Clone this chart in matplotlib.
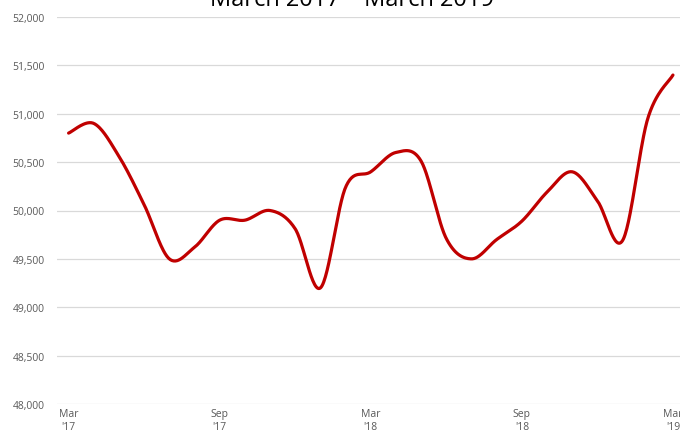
import numpy as np
import matplotlib
matplotlib.use("Agg")
import matplotlib.pyplot as plt

months = ["Mar", "Apr", "May", "Jun", "Jul", "Aug", "Sep", "Oct", "Nov", "Dec", "Jan", "Feb",
          "Mar", "Apr", "May", "Jun", "Jul", "Aug", "Sep", "Oct", "Nov", "Dec", "Jan", "Feb", "Mar"]
values = [50800, 50900, 50560, 50060, 49500, 49620, 49900, 49900, 50000, 49810, 49200, 50240,
          50400, 50600, 50510, 49710, 49500, 49700, 49890, 50190, 50400, 50100, 49690, 50950, 51400]
tick_idx = [0, 6, 12, 18, 24]
tick_labels = ["Mar\n'17", "Sep\n'17", "Mar\n'18", "Sep\n'18", "Mar\n'19"]
yticks = [48000, 48500, 49000, 49500, 50000, 50500, 51000, 51500, 52000]
title = "March 2017 \u2013 March 2019"


def smooth(x, y, n=30):
    x = np.asarray(x, float)
    y = np.asarray(y, float)
    xs, ys = [], []
    for i in range(len(x) - 1):
        p0 = np.array([x[max(i - 1, 0)], y[max(i - 1, 0)]])
        p1 = np.array([x[i], y[i]])
        p2 = np.array([x[i + 1], y[i + 1]])
        p3 = np.array([x[min(i + 2, len(x) - 1)], y[min(i + 2, len(x) - 1)]])
        c1 = p1 + (p2 - p0) / 6.0
        c2 = p2 - (p3 - p1) / 6.0
        t = np.linspace(0, 1, n, endpoint=(i == len(x) - 2))[:, None]
        pts = ((1 - t) ** 3) * p1 + 3 * ((1 - t) ** 2) * t * c1 + 3 * (1 - t) * t ** 2 * c2 + t ** 3 * p2
        xs.append(pts[:, 0])
        ys.append(pts[:, 1])
    return np.concatenate(xs), np.concatenate(ys)


plt.rcParams['font.family'] = ['Open Sans', 'DejaVu Sans']

fig = plt.figure(figsize=(6.8, 4.35), dpi=100)
ax = fig.add_axes([57 / 680, 1 - 405 / 435, 1 - 57 / 680, (405 - 18) / 435])

x = np.arange(len(values))
sx, sy = smooth(x, values)
ax.plot(sx, sy, color="#C00000", lw=2.3, solid_capstyle="round", zorder=3, clip_on=False)

ax.set_ylim(48000, 52000)
ax.set_xlim(-0.46, 24.28)
ax.set_yticks(yticks)
ax.set_yticklabels([f"{v:,}" for v in yticks])
ax.set_xticks(tick_idx)
ax.set_xticklabels(tick_labels, linespacing=1.25)
ax.grid(axis="y", color="#D9D9D9", lw=0.9)
ax.set_axisbelow(True)
for s in ax.spines.values():
    s.set_visible(False)
ax.tick_params(axis="both", length=0, labelsize=7.5, colors="#595959")
ax.tick_params(axis="y", pad=9)
ax.tick_params(axis="x", pad=3)

fig.text(352 / 680, 1 - 6 / 435, title, ha="center", va="baseline", fontsize=17, color="#000000")

fig.savefig("out.png", dpi=100)
